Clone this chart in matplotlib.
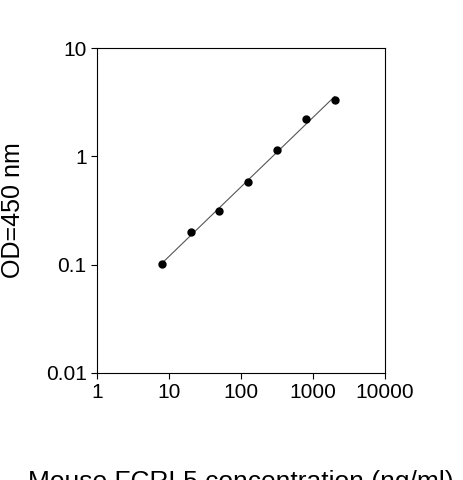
import numpy as np
import matplotlib
matplotlib.use("Agg")
import matplotlib.pyplot as plt

plt.rcParams['font.family'] = ['Liberation Sans', 'DejaVu Sans']

# standard curve data
conc = [8, 20, 50, 125, 320, 800, 2000]
od = [0.101, 0.20, 0.31, 0.58, 1.14, 2.2, 3.3]

fig = plt.figure(figsize=(4.63, 4.8), dpi=100)
ax = fig.add_axes([0.2095, 0.223, 0.622, 0.677])

# linear fit in log-log space
k, b = np.polyfit(np.log10(conc), np.log10(od), 1)
xf = np.array([conc[0], conc[-1]])
ax.plot(xf, 10 ** (k * np.log10(xf) + b), color='#555555', lw=0.8)
ax.plot(conc, od, 'o', color='black', ms=5)

ax.set_xscale('log')
ax.set_yscale('log')
ax.set_xlim(1, 10000)
ax.set_ylim(0.01, 10)
ax.set_xticks([1, 10, 100, 1000, 10000])
ax.set_xticklabels(['1', '10', '100', '1000', '10000'])
ax.set_yticks([0.01, 0.1, 1, 10])
ax.set_yticklabels(['0.01', '0.1', '1', '10'])
ax.minorticks_off()
ax.tick_params(labelsize=15, direction='out', length=4)
ax.set_xlabel('Mouse FCRL5 concentration (ng/ml)', fontsize=19)
ax.xaxis.set_label_coords(0.5, -0.3)
ax.set_ylabel('OD=450 nm', fontsize=18)
ax.yaxis.set_label_coords(-0.25, 0.5)

fig.savefig('out.png', dpi=100)
